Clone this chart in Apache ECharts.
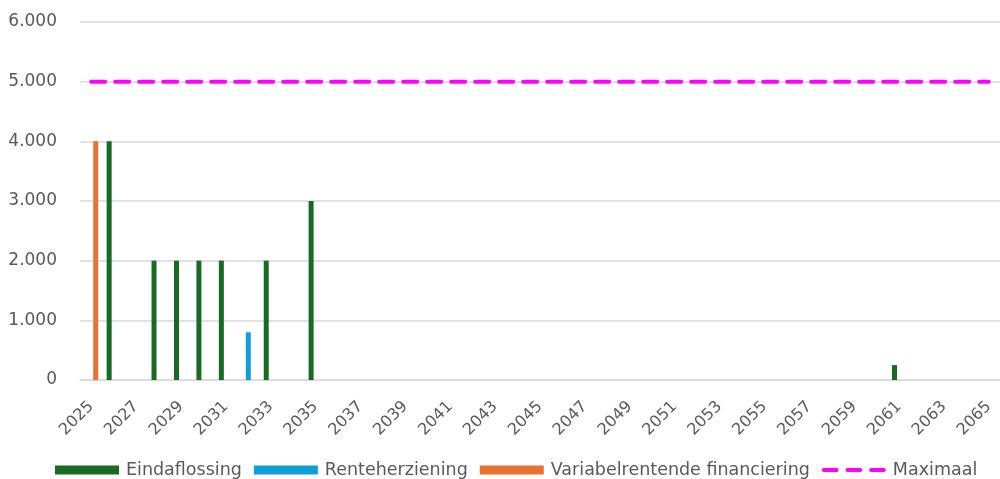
<!DOCTYPE html>
<html>
<head>
<meta charset="utf-8">
<script src="https://cdn.jsdelivr.net/npm/echarts@6/dist/echarts.min.js"></script>
<style>
html,body{margin:0;padding:0;background:#fff;}
#chart{width:1000px;height:479px;}
</style>
</head>
<body>
<div id="chart"></div>
<script>
var years = ['2025','2026','2027','2028','2029','2030','2031','2032','2033','2034','2035','2036','2037','2038','2039','2040','2041','2042','2043','2044','2045','2046','2047','2048','2049','2050','2051','2052','2053','2054','2055','2056','2057','2058','2059','2060','2061','2062','2063','2064','2065'];
var eindaflossing = [0,4000,0,2000,2000,2000,2000,0,2000,0,3000,0,0,0,0,0,0,0,0,0,0,0,0,0,0,0,0,0,0,0,0,0,0,0,0,0,250,0,0,0,0];
var renteherziening = [0,0,0,0,0,0,0,800,0,0,0,0,0,0,0,0,0,0,0,0,0,0,0,0,0,0,0,0,0,0,0,0,0,0,0,0,0,0,0,0,0];
var variabelrentende = [4000,0,0,0,0,0,0,0,0,0,0,0,0,0,0,0,0,0,0,0,0,0,0,0,0,0,0,0,0,0,0,0,0,0,0,0,0,0,0,0,0];
var maximaal = [5000,5000,5000,5000,5000,5000,5000,5000,5000,5000,5000,5000,5000,5000,5000,5000,5000,5000,5000,5000,5000,5000,5000,5000,5000,5000,5000,5000,5000,5000,5000,5000,5000,5000,5000,5000,5000,5000,5000,5000,5000];
var seriesNames = ['Eindaflossing','Renteherziening','Variabelrentende financiering','Maximaal'];

var FONT = 'DejaVu Sans';
var dashIcon = 'path://M2,0h13a2,2 0 0 1 0,4h-13a2,2 0 0 1 0,-4z M26,0h13a2,2 0 0 1 0,4h-13a2,2 0 0 1 0,-4z M50,0h13a2,2 0 0 1 0,4h-13a2,2 0 0 1 0,-4z';
var chart = echarts.init(document.getElementById('chart'));
function fmt(v){ return String(v).replace(/\B(?=(\d{3})+(?!\d))/g,'.'); }
chart.setOption({
  animation:false,
  textStyle:{fontFamily:FONT},
  grid:{left:80,right:0,top:22,bottom:99,containLabel:false},
  legend:{
    left:50, top:456, itemWidth:64, itemHeight:9, itemGap:12,
    textStyle:{fontFamily:FONT,fontSize:17.5,color:'#595959',lineHeight:18,padding:[0,0,0,2]},
    data:[
      {name:seriesNames[0],icon:'rect'},
      {name:seriesNames[1],icon:'rect'},
      {name:seriesNames[2],icon:'rect'},
      {name:seriesNames[3],icon:dashIcon,itemStyle:{color:'#FF00FF'}}
    ]
  },
  xAxis:{
    type:'category', data:years, boundaryGap:true,
    axisLine:{lineStyle:{color:'#d9d9d9',width:1.5}},
    axisTick:{show:false},
    axisLabel:{interval:1,rotate:45,margin:24,fontFamily:FONT,fontSize:16,color:'#595959'}
  },
  yAxis:{
    type:'value', min:0, max:6000, interval:1000,
    axisLine:{show:false}, axisTick:{show:false},
    splitLine:{lineStyle:{color:'#d9d9d9',width:1.5}},
    axisLabel:{margin:23,fontFamily:FONT,fontSize:17,color:'#595959',formatter:fmt}
  },
  series:[
    {name:seriesNames[0],type:'bar',data:eindaflossing,barWidth:5,barGap:'-10%',itemStyle:{color:'#196B24'}},
    {name:seriesNames[1],type:'bar',data:renteherziening,barWidth:5,barGap:'-10%',itemStyle:{color:'#0F9ED5'}},
    {name:seriesNames[2],type:'bar',data:variabelrentende,barWidth:5,barGap:'-10%',itemStyle:{color:'#E97132'}},
    {name:seriesNames[3],type:'line',data:maximaal,symbol:'none',z:5,
     itemStyle:{color:'#FF00FF'},
     lineStyle:{color:'#FF00FF',width:4,type:[14,10],cap:'round'}}
  ]
});
</script>
</body>
</html>
